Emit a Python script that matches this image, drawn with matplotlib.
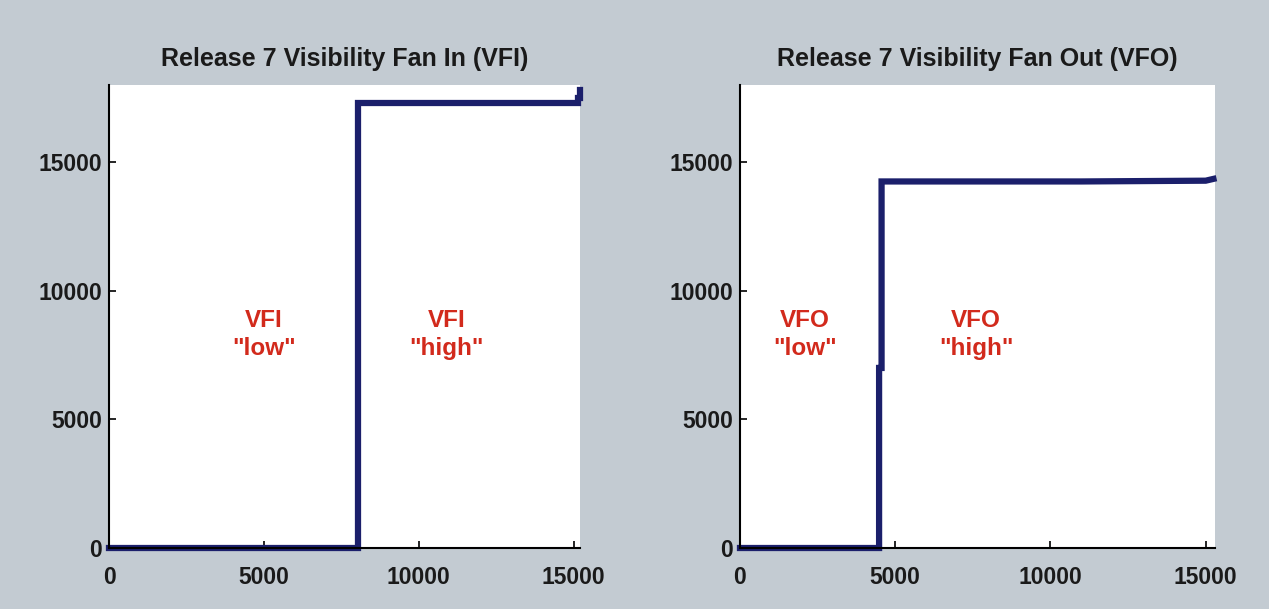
import matplotlib
matplotlib.use("Agg")
import matplotlib.pyplot as plt

# Data
vfi_x = [0, 8020, 8020, 15150, 15150, 15200, 15200]
vfi_y = [0, 0, 17300, 17300, 17500, 17500, 17800]
vfo_x = [0, 4480, 4480, 4560, 4560, 11000, 15000, 15250]
vfo_y = [0, 0, 7000, 7000, 14250, 14250, 14280, 14350]

titles = ["Release 7 Visibility Fan In (VFI)", "Release 7 Visibility Fan Out (VFO)"]
labels_left = [("VFI\n\"low\"", 5000, 8300), ("VFI\n\"high\"", 10900, 8300)]
labels_right = [("VFO\n\"low\"", 2100, 8300), ("VFO\n\"high\"", 7600, 8300)]
ticks = [0, 5000, 10000, 15000]

bg = "#c3cbd2"
line_col = "#1b1f6b"
red = "#d22a1c"
font = "Liberation Sans"

fig = plt.figure(figsize=(12.69, 6.09), dpi=100, facecolor=bg)
ax1 = fig.add_axes([109/1269, 1-548/609, 471/1269, 463/609])
ax2 = fig.add_axes([740/1269, 1-548/609, 475/1269, 463/609])

for ax, xs, ys, title, labs, xmax in [
    (ax1, vfi_x, vfi_y, titles[0], labels_left, 15200),
    (ax2, vfo_x, vfo_y, titles[1], labels_right, 15300),
]:
    ax.set_facecolor("white")
    ax.plot(xs, ys, color=line_col, lw=4.5, clip_on=False, solid_joinstyle="miter")
    ax.set_xlim(0, xmax)
    ax.set_ylim(0, 18000)
    ax.set_xticks(ticks)
    ax.set_yticks(ticks)
    ax.tick_params(direction="in", length=5, width=1.2, labelsize=16.5)
    ax.tick_params(axis="x", pad=13)
    ax.tick_params(axis="y", pad=5)
    for lab in ax.get_xticklabels() + ax.get_yticklabels():
        lab.set_fontfamily(font)
        lab.set_fontweight("bold")
        lab.set_color("#1a1a1a")
    ax.spines["top"].set_visible(False)
    ax.spines["right"].set_visible(False)
    ax.spines["left"].set_linewidth(1.5)
    ax.spines["bottom"].set_linewidth(1.5)
    ax.set_title(title, fontsize=18, fontfamily=font, fontweight="bold",
                 color="#1a1a1a", pad=14)
    for txt, x, y in labs:
        ax.text(x, y, txt, color=red, fontsize=17.5, fontweight="bold",
                fontfamily=font, ha="center", va="center", linespacing=1.3)

fig.savefig("out.png", dpi=100, facecolor=bg)
